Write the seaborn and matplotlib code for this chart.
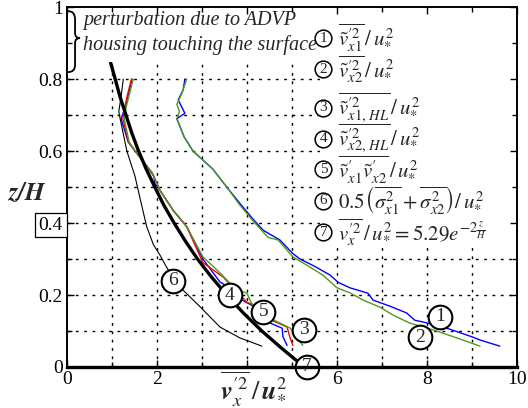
import numpy as np
import pandas as pd
import matplotlib
matplotlib.use("Agg")
import matplotlib.pyplot as plt
from matplotlib.path import Path
from matplotlib.patches import PathPatch, Rectangle
import seaborn as sns

# ---------------- data ----------------
c1_x = [2.62, 2.58, 2.47, 2.62, 2.44, 2.60, 2.80, 3.24, 3.55, 3.84, 4.14, 4.36, 4.73, 5.02, 5.18, 5.50, 5.84, 6.03, 6.29, 6.69, 6.80, 7.20, 7.55, 7.73, 8.02, 8.51, 9.02, 9.18, 9.62]
c1_z = [0.80, 0.77, 0.742, 0.705, 0.69, 0.64, 0.60, 0.55, 0.50, 0.455, 0.41, 0.38, 0.353, 0.315, 0.300, 0.28, 0.256, 0.235, 0.22, 0.205, 0.186, 0.168, 0.15, 0.13, 0.122, 0.105, 0.083, 0.075, 0.058]

c2_x = [2.66, 2.55, 2.44, 2.50, 2.44, 2.60, 2.80, 3.24, 3.55, 3.84, 4.14, 4.36, 4.47, 4.69, 5.02, 5.33, 5.69, 6.00, 6.29, 6.58, 6.96, 7.25, 7.62, 8.14, 8.59, 9.18]
c2_z = [0.80, 0.76, 0.73, 0.71, 0.69, 0.64, 0.60, 0.55, 0.50, 0.45, 0.405, 0.375, 0.36, 0.353, 0.306, 0.283, 0.255, 0.22, 0.206, 0.186, 0.166, 0.144, 0.122, 0.103, 0.084, 0.058]

c3_x = [1.47, 1.38, 1.31, 1.27, 1.38, 1.55, 1.89, 2.07, 2.36, 2.66, 3.02, 3.33, 3.62, 3.89, 4.00, 4.10, 4.44, 4.96, 5.10, 5.24]
c3_z = [0.80, 0.755, 0.72, 0.69, 0.625, 0.594, 0.54, 0.49, 0.435, 0.39, 0.306, 0.27, 0.233, 0.21, 0.205, 0.177, 0.14, 0.108, 0.084, 0.06]

c4_x = [1.45, 1.36, 1.29, 1.20, 1.36, 1.55, 1.82, 1.93, 1.95, 2.07, 2.36, 2.66, 3.02, 3.40, 3.62, 3.89, 4.10, 4.44, 4.78, 4.80, 4.89]
c4_z = [0.80, 0.755, 0.72, 0.69, 0.625, 0.594, 0.55, 0.53, 0.51, 0.49, 0.435, 0.39, 0.300, 0.236, 0.22, 0.186, 0.172, 0.126, 0.108, 0.084, 0.06]

c5_x = [1.43, 1.34, 1.28, 1.24, 1.37, 1.55, 1.89, 2.07, 2.36, 2.66, 3.02, 3.47, 3.69, 4.00, 4.14, 4.44, 4.89, 4.96, 5.02]
c5_z = [0.80, 0.755, 0.72, 0.69, 0.625, 0.594, 0.54, 0.49, 0.435, 0.39, 0.29, 0.25, 0.22, 0.18, 0.172, 0.136, 0.111, 0.08, 0.06]

c6_x = [1.25, 1.20, 1.15, 1.18, 1.33, 1.51, 1.62, 1.77, 1.92, 2.07, 2.20, 2.30, 2.51, 2.96, 3.40, 3.84, 4.33]
c6_z = [0.80, 0.75, 0.71, 0.69, 0.60, 0.53, 0.47, 0.39, 0.34, 0.31, 0.28, 0.26, 0.222, 0.167, 0.111, 0.081, 0.058]

c7_x = [0.97, 1.07, 1.18, 1.31, 1.44, 1.59, 1.76, 1.95, 2.15, 2.38, 2.63, 2.90, 3.21, 3.55, 3.92, 4.33, 4.79, 5.13]
c7_z = [0.845, 0.80, 0.75, 0.70, 0.65, 0.60, 0.55, 0.50, 0.45, 0.40, 0.35, 0.30, 0.25, 0.20, 0.15, 0.10, 0.05, 0.015]

label_ids = ["1", "2", "3", "4", "5", "6", "7"]
label_x = [8.29, 7.84, 5.27, 3.62, 4.36, 2.36, 5.33]
label_z = [0.139, 0.083, 0.103, 0.200, 0.153, 0.240, 0.000]

legend_texts = [
    r"$\overline{\tilde{v}^{\prime 2}_{x1}}\,/\,u^2_{*}$",
    r"$\overline{\tilde{v}^{\prime 2}_{x2}}\,/\,u^2_{*}$",
    r"$\overline{\tilde{v}^{\prime 2}_{x1,\,HL}}\,/\,u^2_{*}$",
    r"$\overline{\tilde{v}^{\prime 2}_{x2,\,HL}}\,/\,u^2_{*}$",
    r"$\overline{\tilde{v}^{\prime}_{x1}\tilde{v}^{\prime}_{x2}}\,/\,u^2_{*}$",
    r"$0.5\left(\overline{\sigma^2_{x1}}+\overline{\sigma^2_{x2}}\right)/\,u^2_{*}$",
    r"$\overline{v^{\prime 2}_{x}}\,/\,u^2_{*}=5.29e^{-2\frac{z}{H}}$",
]

x_ticks = [0, 2, 4, 6, 8, 10]
x_ticklabels = ["0", "2", "", "6", "8", "10"]
y_ticks = [0, 0.2, 0.4, 0.6, 0.8, 1.0]
y_ticklabels = ["0", "0.2", "0.4", "0.6", "0.8", "1"]

# ---------------- style ----------------
sns.set_style("ticks")
plt.rcParams["font.family"] = ["Liberation Serif", "DejaVu Serif"]
plt.rcParams["mathtext.fontset"] = "stix"

fig = plt.figure(figsize=(5.28, 4.08), dpi=100)
ax = fig.add_axes([0.127, 0.1005, 0.852, 0.882])

BLUE = "#0000ff"
GREEN = "#4f9a1f"
RED = "#ff0000"

curves = [
    (c1_x, c1_z, BLUE, 1.0),
    (c2_x, c2_z, GREEN, 1.0),
    (c4_x, c4_z, BLUE, 1.0),
    (c5_x, c5_z, RED, 1.0),
    (c3_x, c3_z, GREEN, 1.0),
    (c6_x, c6_z, "black", 0.8),
    (c7_x, c7_z, "black", 2.4),
]
for i, (xs, zs, col, lw) in enumerate(curves):
    df = pd.DataFrame({"x": xs, "z": zs})
    sns.lineplot(data=df, x="x", y="z", sort=False, estimator=None,
                 color=col, lw=lw, ax=ax, zorder=3 + i * 0.1)

# circled labels on curves
lab = pd.DataFrame({"x": label_x, "z": label_z, "id": label_ids})
ax.scatter(lab["x"], lab["z"], s=290, facecolor="white", edgecolor="black",
           linewidth=1.5, zorder=6, clip_on=False)
for _, r in lab.iterrows():
    ax.text(r["x"], r["z"], r["id"], ha="center", va="center",
            fontsize=14, zorder=7, clip_on=False)

ax.set_xlim(0, 10)
ax.set_ylim(0, 1)
ax.set_xticks(x_ticks)
ax.set_xticklabels(x_ticklabels)
ax.set_yticks(y_ticks)
ax.set_yticklabels(y_ticklabels)
ax.set_xticks(np.arange(1, 10, 2), minor=True)
ax.set_yticks(np.arange(0.1, 1.0, 0.2), minor=True)
ax.tick_params(which="both", direction="in", top=True, right=True,
               labelsize=14, colors="black", length=5, width=1.0, pad=3)
ax.tick_params(which="minor", length=3.5)

# boxed 0.4 label
for t in ax.get_yticklabels():
    if t.get_text() == "0.4":
        t.set_bbox(dict(boxstyle="square,pad=0.2", fc="white", ec="black", lw=0.9))

# grid (dotted)
for gx in range(1, 10):
    ax.axvline(gx, color="black", lw=1.0, ls=(0, (2, 4)), zorder=1)
for gy in np.arange(0.1, 0.95, 0.1):
    ax.axhline(gy, color="black", lw=1.0, ls=(0, (2, 4)), zorder=1)

# white panels behind the note and the list
ax.add_patch(Rectangle((0, 0.847), 0.572, 0.153, transform=ax.transAxes,
                       fc="white", ec="none", zorder=5))
ax.add_patch(Rectangle((0.562, 0.339), 0.438, 0.661, transform=ax.transAxes,
                       fc="white", ec="none", zorder=5))

for side in ["left", "right", "top"]:
    ax.spines[side].set_linewidth(1.4)
    ax.spines[side].set_color("black")
    ax.spines[side].set_zorder(8)
ax.spines["bottom"].set_linewidth(2.4)
ax.spines["bottom"].set_color("black")
ax.spines["bottom"].set_zorder(8)
ax.xaxis.set_zorder(8)
ax.yaxis.set_zorder(8)

ax.set_xlabel(r"$\overline{\mathbfit{v}^{\prime 2}_{x}}\,/\,\mathbfit{u}^2_{*}$", fontsize=19)
ax.xaxis.set_label_coords(0.415, -0.062)
ax.xaxis.label.set_va("center")
ax.set_ylabel(r"$\mathbfit{z/H}$", fontsize=18, rotation=0)
ax.yaxis.set_label_coords(-0.089, 0.483)
ax.yaxis.label.set_va("center")
ax.yaxis.label.set_ha("center")

# legend-like list on the right
leg_y = [0.914, 0.827, 0.721, 0.634, 0.549, 0.462, 0.374]
for i, (ly, txt) in enumerate(zip(leg_y, legend_texts)):
    ax.scatter([0.57], [ly], s=145, facecolor="white", edgecolor="black",
               linewidth=1.1, transform=ax.transAxes, zorder=6, clip_on=False)
    ax.text(0.57, ly, label_ids[i], transform=ax.transAxes, ha="center",
            va="center", fontsize=11, zorder=7)
    ax.text(0.603, ly, txt, transform=ax.transAxes, ha="left", va="center",
            fontsize=15, zorder=7)

# perturbation note with brace
ax.text(0.036, 0.964, "perturbation due to ADVP", transform=ax.transAxes,
        ha="left", va="center", fontsize=14.5, style="italic", zorder=7)
ax.text(0.036, 0.894, "housing touching the surface", transform=ax.transAxes,
        ha="left", va="center", fontsize=14.5, style="italic", zorder=7)

def px(xp, yp):
    return ((xp - 67) / 450.0, (367 - yp) / 360.0)

verts = [px(68, 11), px(75, 11), px(75, 19),
         px(75, 33),
         px(75, 38), px(80, 38),
         px(75, 38), px(75, 43),
         px(75, 65),
         px(75, 72), px(68, 72)]
codes = [Path.MOVETO, Path.CURVE3, Path.CURVE3,
         Path.LINETO,
         Path.CURVE3, Path.CURVE3,
         Path.CURVE3, Path.CURVE3,
         Path.LINETO,
         Path.CURVE3, Path.CURVE3]
brace = PathPatch(Path(verts, codes), transform=ax.transAxes, fc="none",
                  ec="black", lw=1.3, zorder=7, clip_on=False)
ax.add_patch(brace)

fig.savefig("out.png", dpi=100)
